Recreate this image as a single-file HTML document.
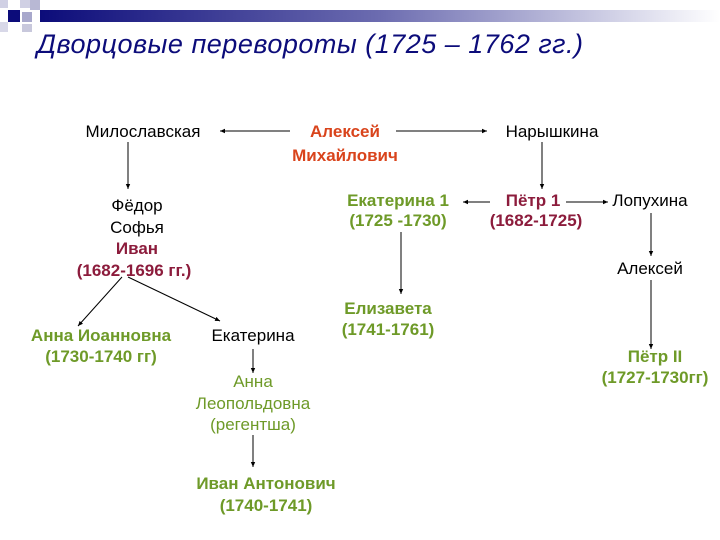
<!DOCTYPE html>
<html><head><meta charset="utf-8"><style>
html,body{margin:0;padding:0;background:#fff;width:720px;height:540px;overflow:hidden}
svg{display:block}
text{font-family:"Liberation Sans",sans-serif;font-size:17px}
.b{font-weight:bold}
.k{fill:#000}.r{fill:#d9441c}.m{fill:#8c1c3c}.g{fill:#6e9a28}
</style></head><body>
<svg width="720" height="540" viewBox="0 0 720 540">
<defs>
<linearGradient id="bar" x1="0" x2="1"><stop offset="0" stop-color="#0c0c7a"/><stop offset="0.5" stop-color="#6c6cb0"/><stop offset="1" stop-color="#ffffff"/></linearGradient>
<marker id="a" markerWidth="6" markerHeight="6" refX="5" refY="3" orient="auto"><path d="M0,0.8 L5,3 L0,5.2z" fill="#000"/></marker>
</defs>
<rect x="40" y="10" width="680" height="12" fill="url(#bar)"/>
<rect x="0" y="0" width="8" height="8" fill="#d0d0e4"/>
<rect x="20" y="0" width="10" height="8" fill="#d0d0e4"/>
<rect x="30" y="0" width="10" height="10" fill="#b8b8d4"/>
<rect x="8" y="10" width="12" height="12" fill="#0c0c7a"/>
<rect x="22" y="12" width="10" height="10" fill="#a8a8cc"/>
<rect x="0" y="22" width="8" height="10" fill="#d8d8e8"/>
<rect x="22" y="24" width="10" height="8" fill="#c8c8dc"/>
<text x="37" y="53" textLength="546" style="font-size:27px;font-style:italic;fill:#0c0c7a">Дворцовые перевороты (1725 – 1762 гг.)</text>

<g stroke="#000" stroke-width="1" fill="none">
<line x1="290" y1="131" x2="220" y2="131" marker-end="url(#a)"/>
<line x1="396" y1="131" x2="487" y2="131" marker-end="url(#a)"/>
<line x1="128" y1="142" x2="128" y2="189" marker-end="url(#a)"/>
<line x1="542" y1="142" x2="542" y2="189" marker-end="url(#a)"/>
<line x1="490" y1="202" x2="463" y2="202" marker-end="url(#a)"/>
<line x1="566" y1="202" x2="608" y2="202" marker-end="url(#a)"/>
<line x1="401" y1="232" x2="401" y2="294" marker-end="url(#a)"/>
<line x1="651" y1="213" x2="651" y2="256" marker-end="url(#a)"/>
<line x1="651" y1="280" x2="651" y2="349" marker-end="url(#a)"/>
<line x1="122" y1="277" x2="78" y2="326" marker-end="url(#a)"/>
<line x1="128" y1="277" x2="220" y2="321" marker-end="url(#a)"/>
<line x1="253" y1="349" x2="253" y2="373" marker-end="url(#a)"/>
<line x1="253" y1="435" x2="253" y2="467" marker-end="url(#a)"/>
</g>

<g text-anchor="middle">
<text x="143" y="137" class="k">Милославская</text>
<text x="345" y="137" class="b r">Алексей</text>
<text x="345" y="161" class="b r">Михайлович</text>
<text x="552" y="137" class="k">Нарышкина</text>
<text x="137" y="211" class="k">Фёдор</text>
<text x="137" y="233" class="k">Софья</text>
<text x="137" y="254" class="b m">Иван</text>
<text x="134" y="276" class="b m">(1682-1696 гг.)</text>
<text x="398" y="206" class="b g">Екатерина 1</text>
<text x="398" y="226" class="b g">(1725 -1730)</text>
<text x="533" y="206" class="b m">Пётр 1</text>
<text x="536" y="226" class="b m">(1682-1725)</text>
<text x="650" y="206" class="k">Лопухина</text>
<text x="650" y="274" class="k">Алексей</text>
<text x="388" y="314" class="b g">Елизавета</text>
<text x="388" y="335" class="b g">(1741-1761)</text>
<text x="101" y="341" class="b g">Анна Иоанновна</text>
<text x="101" y="362" class="b g">(1730-1740 гг)</text>
<text x="253" y="341" class="k">Екатерина</text>
<text x="253" y="387" class="g">Анна</text>
<text x="253" y="409" class="g">Леопольдовна</text>
<text x="253" y="430" class="g">(регентша)</text>
<text x="266" y="489" class="b g">Иван Антонович</text>
<text x="266" y="511" class="b g">(1740-1741)</text>
<text x="655" y="362" class="b g">Пётр II</text>
<text x="655" y="383" class="b g">(1727-1730гг)</text>
</g>
</svg>
</body></html>
